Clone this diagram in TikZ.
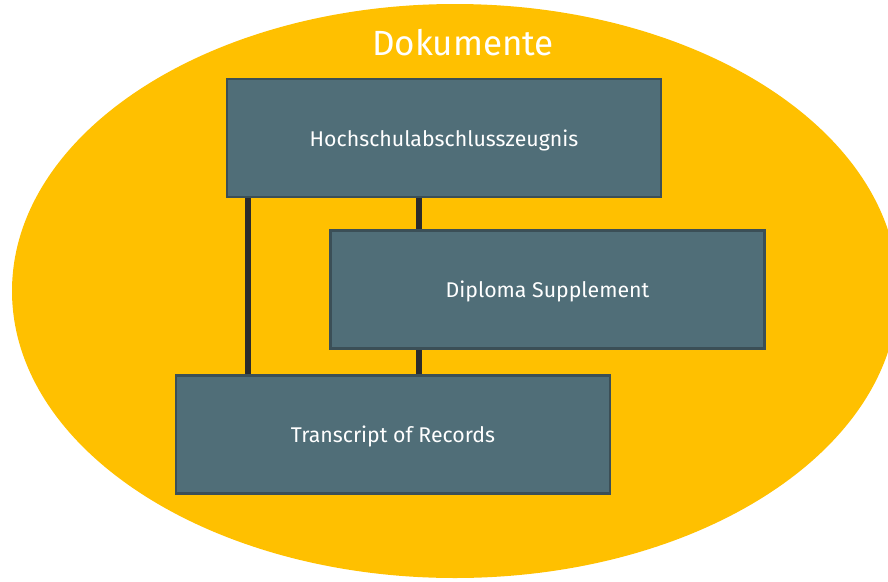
\documentclass[tikz,border=0pt]{standalone}
\usepackage{fontspec}
\setmainfont{Fira Sans}
\pgfdeclarelayer{backdrop}
\pgfdeclarelayer{links}
\pgfsetlayers{backdrop,links,main}
\definecolor{docyellow}{HTML}{FFC000}
\definecolor{boxfill}{HTML}{506E78}
\definecolor{boxline}{HTML}{3B4F57}
\definecolor{linkline}{HTML}{2B2B2B}
\tikzset{
  docbox/.style={rectangle, fill=boxfill, draw=boxline, line width=2.2pt,
    minimum width=434pt, minimum height=118pt, inner sep=0pt,
    text depth=0pt, text=white, font=\fontsize{21.3}{24}\selectfont},
  link/.style={draw=linkline, line width=6pt}
}
\begin{document}
\begin{tikzpicture}[x=1pt,y=-1pt]
\useasboundingbox (0,0) rectangle (888,581);
\begin{pgfonlayer}{backdrop}
  \begin{scope}
    \clip (0,0) rectangle (888,581);
    \fill[docyellow] (455,291) ellipse [x radius=443, y radius=287];
    \fill[white] (625,0) rectangle (888,25);
  \end{scope}
\end{pgfonlayer}
\node[text=white, font=\fontsize{35}{40}\selectfont] (title) at (463,43) {Dokumente};

% the three documents
\node[docbox] (hz) at (444,138) {Hochschulabschlusszeugnis};
\node[docbox] (ds) at (547.5,289.5) {Diploma Supplement};
\node[docbox] (tr) at (393,434.5) {Transcript of Records};

% connectors, drawn behind the boxes
\coordinate (lx) at (248,0);
\coordinate (mx) at (418.5,0);
\begin{pgfonlayer}{links}
  \draw[link] (hz.south -| lx) -- (tr.north -| lx);
  \draw[link] (hz.south -| mx) -- (ds.north -| mx);
  \draw[link] (ds.south -| mx) -- (tr.north -| mx);
\end{pgfonlayer}
\end{tikzpicture}
\end{document}
